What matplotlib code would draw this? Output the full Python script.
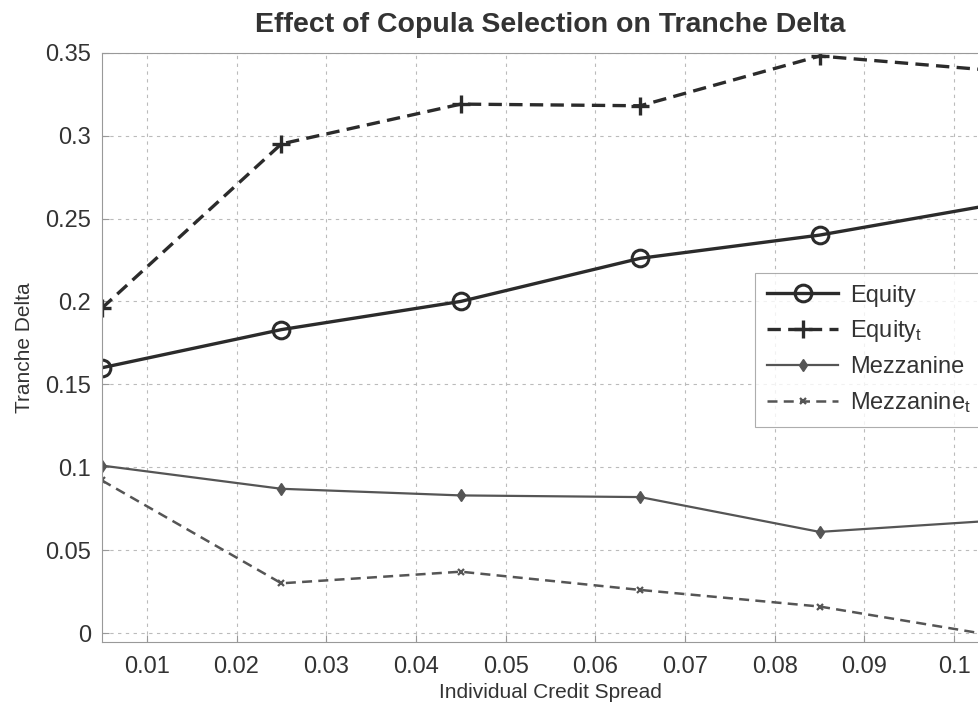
import matplotlib
matplotlib.use('Agg')
import matplotlib.pyplot as plt
from matplotlib.ticker import FuncFormatter

plt.rcParams['font.family'] = ['Liberation Sans', 'DejaVu Sans']
plt.rcParams['mathtext.fontset'] = 'custom'
plt.rcParams['mathtext.rm'] = 'Liberation Sans'
plt.rcParams['mathtext.it'] = 'Liberation Sans'

# ── DADOS ─────────────────────────────────────────────────────────────────────
spread = [0.005, 0.025, 0.045, 0.065, 0.085, 0.105]
equity = [0.160, 0.183, 0.200, 0.226, 0.240, 0.259]
equity_t = [0.196, 0.295, 0.319, 0.318, 0.348, 0.339]
mezz = [0.101, 0.087, 0.083, 0.082, 0.061, 0.068]
mezz_t = [0.092, 0.030, 0.037, 0.026, 0.016, -0.002]

x_ticks = [0.01, 0.02, 0.03, 0.04, 0.05, 0.06, 0.07, 0.08, 0.09, 0.1]
y_ticks = [0, 0.05, 0.1, 0.15, 0.2, 0.25, 0.3, 0.35]

W, H = 979, 708
fig = plt.figure(figsize=(W / 100, H / 100), dpi=100)
left, right, top, bottom = 102, 999, 52.7, 642
ax = fig.add_axes([left / W, 1 - bottom / H, (right - left) / W, (bottom - top) / H])

ax.plot(spread, equity, color='#2b2b2b', lw=2.4, marker='o', ms=12,
        mfc='none', mew=2.2, label='Equity')
ax.plot(spread, equity_t, color='#2b2b2b', lw=2.4, ls=(0, (4, 2.2)), marker='+',
        ms=13, mew=2.4, label='Equity$_\\mathrm{t}$')
ax.plot(spread, mezz, color='#555555', lw=1.6, marker='d', ms=6,
        mfc='#555555', label='Mezzanine')
ax.plot(spread, mezz_t, color='#555555', lw=1.8, ls=(0, (4, 2.5)), marker='x',
        ms=5, mew=1.6, label='Mezzanine$_\\mathrm{t}$')

ax.set_xlim(0.005, 0.105)
ax.set_ylim(-0.0054, 0.35)
ax.set_xticks(x_ticks)
ax.set_yticks(y_ticks)
fmt = FuncFormatter(lambda v, p: f'{v:g}')
ax.xaxis.set_major_formatter(fmt)
ax.yaxis.set_major_formatter(fmt)
ax.tick_params(direction='in', length=5, color='#999999', labelsize=17,
               labelcolor='#333333', pad=8)
ax.tick_params(axis='x', pad=10)
ax.grid(True, ls=(0, (3, 4)), color='#bbbbbb', lw=0.8)
for s in ax.spines.values():
    s.set_color('#999999')

ax.set_title('Effect of Copula Selection on Tranche Delta', fontsize=20.5,
             fontweight='bold', color='#333333', pad=15)
ax.set_xlabel('Individual Credit Spread', fontsize=15, color='#333333', labelpad=4)
ax.set_ylabel('Tranche Delta', fontsize=15, color='#333333', labelpad=8)

leg = ax.legend(loc='upper left', bbox_to_anchor=(0.7285, 0.6265), fontsize=17,
                frameon=True, fancybox=False, edgecolor='#999999',
                handlelength=3.0, handletextpad=0.5, labelspacing=0.5,
                borderpad=0.5, borderaxespad=0)
leg.get_frame().set_linewidth(0.8)
for t in leg.get_texts():
    t.set_color('#333333')

fig.savefig('out.png', dpi=100)
